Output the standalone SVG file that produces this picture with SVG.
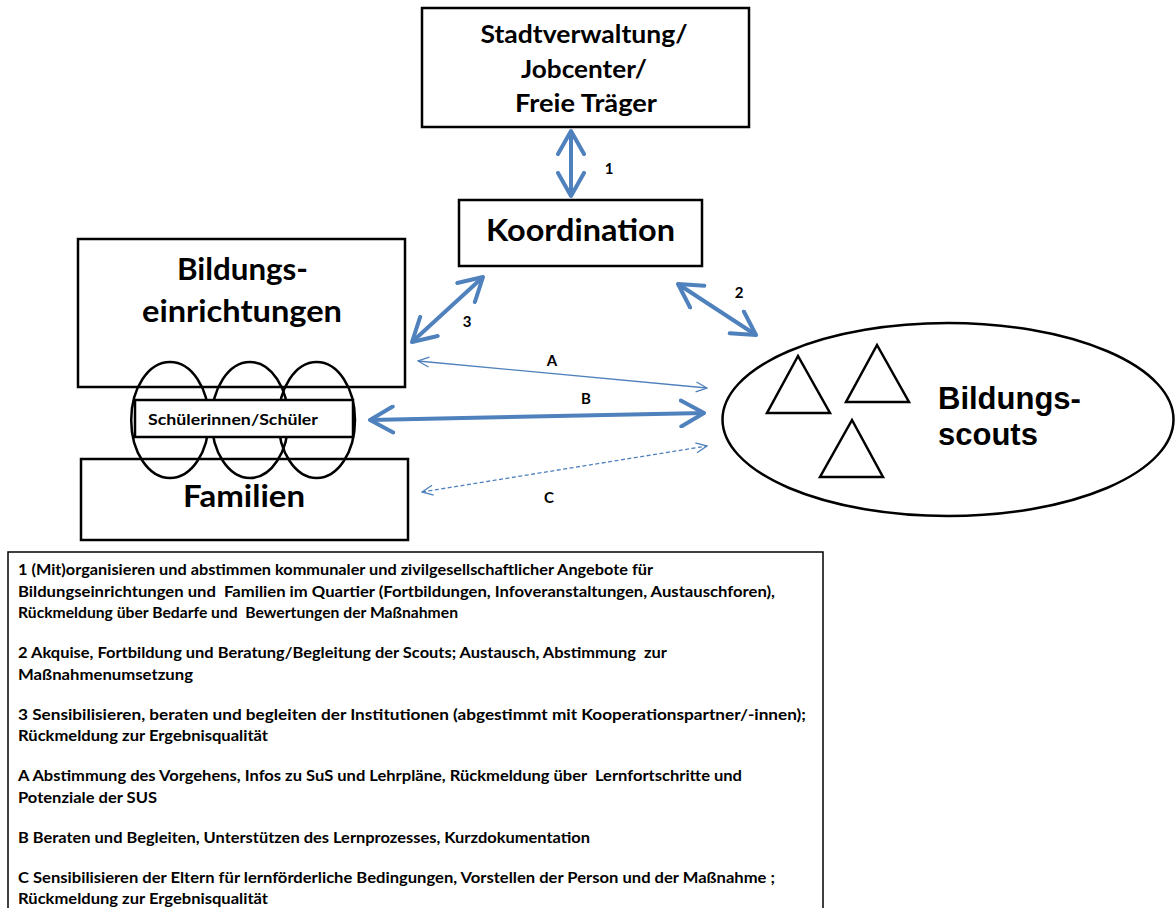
<svg xmlns="http://www.w3.org/2000/svg" width="1175" height="908" viewBox="0 0 1175 908">
<style>
.box{fill:none;stroke:#000;stroke-width:2.5}
.wbox{fill:#fff;stroke:#000;stroke-width:2.5}
.cal{font-family:Lato,"Open Sans","Liberation Sans",sans-serif;font-weight:bold;fill:#000}
.ari{font-family:"Liberation Sans",Arial,sans-serif;font-weight:bold;fill:#000}
.thick{stroke:#4F81BD;stroke-width:4;fill:none;marker-start:url(#hb);marker-end:url(#hb)}
.thin{stroke:#4F81BD;stroke-width:1.3;fill:none;marker-start:url(#hs);marker-end:url(#hs)}
.dash{stroke-dasharray:4 2.5}
.leg{font-size:14.5px}
</style>
<defs>
<marker id="hb" viewBox="0 0 28 30" refX="25" refY="15" markerWidth="28" markerHeight="30" markerUnits="userSpaceOnUse" orient="auto-start-reverse">
<path d="M2,2 L25,15 L2,28" fill="none" stroke="#4F81BD" stroke-width="4" stroke-linecap="round" stroke-linejoin="round"/>
</marker>
<marker id="hs" viewBox="0 0 13 12" refX="12" refY="6" markerWidth="13" markerHeight="12" markerUnits="userSpaceOnUse" orient="auto-start-reverse">
<path d="M1,1 L12,6 L1,11" fill="none" stroke="#4F81BD" stroke-width="1.3"/>
</marker>
</defs>

<g id="stadtverwaltung">
<rect class="box" x="422" y="8" width="327" height="119"/>
<text class="cal" x="584" y="43" font-size="24" text-anchor="middle" textLength="207" lengthAdjust="spacingAndGlyphs">Stadtverwaltung/</text>
<text class="cal" x="584" y="78" font-size="24" text-anchor="middle" textLength="126" lengthAdjust="spacingAndGlyphs">Jobcenter/</text>
<text class="cal" x="586" y="112" font-size="24" text-anchor="middle" textLength="142" lengthAdjust="spacingAndGlyphs">Freie Träger</text>
</g>

<g id="koordination">
<rect class="box" x="459" y="200" width="243" height="66"/>
<text class="cal" x="580.5" y="241" font-size="30" text-anchor="middle" textLength="189" lengthAdjust="spacingAndGlyphs">Koordination</text>
</g>

<g id="bildungseinrichtungen">
<rect class="box" x="78" y="239" width="327" height="148"/>
<text class="cal" x="242.5" y="280" font-size="30" text-anchor="middle" textLength="131" lengthAdjust="spacingAndGlyphs">Bildungs-</text>
<text class="cal" x="242" y="322" font-size="30" text-anchor="middle" textLength="200" lengthAdjust="spacingAndGlyphs">einrichtungen</text>
</g>

<g id="familien">
<rect class="box" x="81" y="459" width="327" height="81"/>
<text class="cal" x="244" y="507" font-size="30" text-anchor="middle" textLength="122" lengthAdjust="spacingAndGlyphs">Familien</text>
</g>

<g id="schueler">
<ellipse class="box" cx="170" cy="420" rx="38.8" ry="58"/>
<ellipse class="box" cx="250" cy="420" rx="38.3" ry="58"/>
<ellipse class="box" cx="316.7" cy="420" rx="38.3" ry="58"/>
<rect class="wbox" x="135" y="400" width="218" height="37"/>
<text class="cal" x="148" y="425" font-size="15" textLength="170" lengthAdjust="spacingAndGlyphs">Schülerinnen/Schüler</text>
</g>

<g id="bildungsscouts">
<ellipse class="box" cx="948" cy="419.5" rx="225.5" ry="96.5"/>
<polygon class="box" points="798,356 767,413 830,413"/>
<polygon class="box" points="877,345 846,402 909,402"/>
<polygon class="box" points="852,420 820,477 883,477"/>
<text class="ari" x="938" y="409" font-size="31">Bildungs-</text>
<text class="ari" x="938" y="445" font-size="31">scouts</text>
</g>

<g id="connectors">
<line class="thick" x1="571" y1="131" x2="571" y2="196"/>
<line class="thick" x1="412" y1="342" x2="483" y2="277"/>
<line class="thick" x1="678" y1="284" x2="756" y2="335"/>
<line class="thin" x1="418" y1="361" x2="707" y2="388"/>
<line class="thick" x1="370" y1="420" x2="704" y2="413"/>
<line class="thin dash" x1="422" y1="492" x2="707" y2="446"/>
<text class="cal" x="609" y="174" font-size="15" text-anchor="middle">1</text>
<text class="cal" x="467" y="327" font-size="15" text-anchor="middle">3</text>
<text class="cal" x="739" y="298" font-size="15" text-anchor="middle">2</text>
<text class="cal" x="552" y="366" font-size="15" text-anchor="middle">A</text>
<text class="cal" x="586" y="404" font-size="15" text-anchor="middle">B</text>
<text class="cal" x="549" y="503" font-size="15" text-anchor="middle">C</text>
</g>

<g id="legende">
<rect x="8" y="552" width="815" height="370" fill="none" stroke="#000" stroke-width="1.5"/>
<text class="cal leg" x="18" y="575" textLength="635" lengthAdjust="spacingAndGlyphs">1 (Mit)organisieren und abstimmen kommunaler und zivilgesellschaftlicher Angebote für</text>
<text class="cal leg" x="18" y="596.5" xml:space="preserve" textLength="757" lengthAdjust="spacingAndGlyphs">Bildungseinrichtungen und  Familien im Quartier (Fortbildungen, Infoveranstaltungen, Austauschforen),</text>
<text class="cal leg" x="18" y="618" xml:space="preserve" textLength="440" lengthAdjust="spacingAndGlyphs">Rückmeldung über Bedarfe und  Bewertungen der Maßnahmen</text>
<text class="cal leg" x="18" y="658" xml:space="preserve" textLength="649" lengthAdjust="spacingAndGlyphs">2 Akquise, Fortbildung und Beratung/Begleitung der Scouts; Austausch, Abstimmung  zur</text>
<text class="cal leg" x="18" y="679.5" textLength="175" lengthAdjust="spacingAndGlyphs">Maßnahmenumsetzung</text>
<text class="cal leg" x="18" y="719.5" textLength="788" lengthAdjust="spacingAndGlyphs">3 Sensibilisieren, beraten und begleiten der Institutionen (abgestimmt mit Kooperationspartner/-innen);</text>
<text class="cal leg" x="18" y="741" textLength="250" lengthAdjust="spacingAndGlyphs">Rückmeldung zur Ergebnisqualität</text>
<text class="cal leg" x="18" y="781" xml:space="preserve" textLength="724" lengthAdjust="spacingAndGlyphs">A Abstimmung des Vorgehens, Infos zu SuS und Lehrpläne, Rückmeldung über  Lernfortschritte und</text>
<text class="cal leg" x="18" y="802.5" textLength="139" lengthAdjust="spacingAndGlyphs">Potenziale der SUS</text>
<text class="cal leg" x="18" y="842.5" textLength="572" lengthAdjust="spacingAndGlyphs">B Beraten und Begleiten, Unterstützen des Lernprozesses, Kurzdokumentation</text>
<text class="cal leg" x="18" y="882.5" textLength="757" lengthAdjust="spacingAndGlyphs">C Sensibilisieren der Eltern für lernförderliche Bedingungen, Vorstellen der Person und der Maßnahme ;</text>
<text class="cal leg" x="18" y="904" textLength="250" lengthAdjust="spacingAndGlyphs">Rückmeldung zur Ergebnisqualität</text>
</g>
</svg>
